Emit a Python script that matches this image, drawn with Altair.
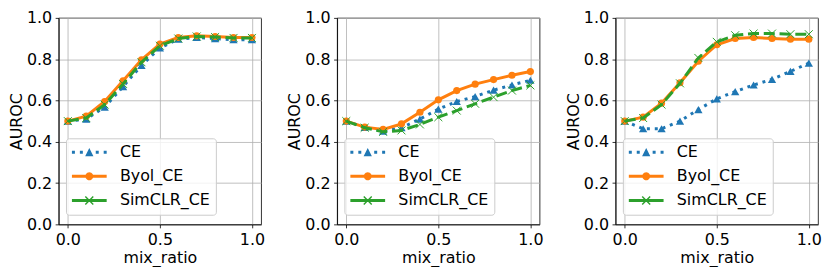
import math
import altair as alt
import pandas as pd

# ---------------- data ----------------
mix_ratio = [0.0, 0.1, 0.2, 0.3, 0.4, 0.5, 0.6, 0.7, 0.8, 0.9, 1.0]
series_names = ["CE", "Byol_CE", "SimCLR_CE"]

p1_ce = [0.500, 0.510, 0.568, 0.667, 0.770, 0.854, 0.897, 0.905, 0.900, 0.894, 0.894]
p1_byol = [0.500, 0.524, 0.595, 0.695, 0.797, 0.873, 0.905, 0.913, 0.910, 0.905, 0.905]
p1_simclr = [0.500, 0.515, 0.580, 0.680, 0.785, 0.865, 0.900, 0.910, 0.907, 0.903, 0.903]

p2_ce = [0.500, 0.470, 0.452, 0.468, 0.510, 0.558, 0.595, 0.619, 0.650, 0.675, 0.698]
p2_byol = [0.500, 0.471, 0.460, 0.487, 0.543, 0.603, 0.648, 0.679, 0.701, 0.722, 0.740]
p2_simclr = [0.500, 0.468, 0.448, 0.455, 0.484, 0.519, 0.551, 0.584, 0.616, 0.648, 0.673]

p3_ce = [0.500, 0.463, 0.463, 0.500, 0.556, 0.608, 0.643, 0.675, 0.702, 0.741, 0.781]
p3_byol = [0.500, 0.519, 0.587, 0.686, 0.790, 0.870, 0.900, 0.905, 0.900, 0.897, 0.897]
p3_simclr = [0.500, 0.515, 0.580, 0.683, 0.806, 0.884, 0.916, 0.924, 0.924, 0.921, 0.921]

x_ticks = [0.0, 0.5, 1.0]
y_ticks = [0.0, 0.2, 0.4, 0.6, 0.8, 1.0]

panels = [
    {"CE": p1_ce, "Byol_CE": p1_byol, "SimCLR_CE": p1_simclr},
    {"CE": p2_ce, "Byol_CE": p2_byol, "SimCLR_CE": p2_simclr},
    {"CE": p3_ce, "Byol_CE": p3_byol, "SimCLR_CE": p3_simclr},
]

# ---------------- styles ----------------
colors = ["#1f77b4", "#ff7f0e", "#2ca02c"]
dashes = [[3, 4.95], None, [11.1, 4.8]]
X_PATH = "M-1,-1L1,1M-1,1L1,-1"
marker_shapes = ["triangle-up", "circle", X_PATH]
marker_filled = [True, True, False]
marker_sizes = [70, 52, 64]

FONT = "DejaVu Sans"


def rect(x0, x1, h=0.3):
    return f"M{x0},{-h}L{x1},{-h}L{x1},{h}L{x0},{h}Z"


def circle(r, n=24):
    pts = [(r * math.cos(2 * math.pi * i / n), r * math.sin(2 * math.pi * i / n)) for i in range(n)]
    return "M" + "L".join(f"{x:.3f},{y:.3f}" for x, y in pts) + "Z"


def triangle(a):
    return f"M0,{-a}L{a},{a}L{-a},{a}Z"


def xcross(a, t):
    d1 = f"M{-a - t},{-a + t}L{-a + t},{-a - t}L{a + t},{a - t}L{a - t},{a + t}Z"
    d2 = f"M{a - t},{-a - t}L{a + t},{-a + t}L{-a + t},{a + t}L{-a - t},{a - t}Z"
    return d1 + d2


legend_paths = [
    rect(-3.5, -2.9) + rect(-1.9, -1.3) + rect(1.3, 1.9) + rect(2.9, 3.5) + triangle(0.83),
    rect(-3.5, 3.5) + circle(0.8),
    rect(-3.5, 3.5) + xcross(0.8, 0.1),
]

legend_def = alt.Legend(
    title=None,
    orient="none",
    legendX=7.4,
    legendY=121.3,
    symbolSize=100,
    labelFont=FONT,
    labelFontSize=16,
    labelColor="black",
    padding=6,
    rowPadding=8.3,
    symbolOffset=9.5,
    labelOffset=22.8,
    fillColor="rgba(255,255,255,0.8)",
    strokeColor="#cccccc",
    cornerRadius=3,
    labelLimit=300,
)


def make_panel(vals):
    rows = []
    for s in series_names:
        for xv, yv in zip(mix_ratio, vals[s]):
            rows.append({"series": s, "x": xv, "y": yv})
    df = pd.DataFrame(rows)
    base = alt.Chart(df)
    xenc = alt.X(
        "x:Q",
        scale=alt.Scale(domain=[-0.05, 1.05], nice=False, zero=False),
        axis=alt.Axis(values=x_ticks, format=".1f", title="mix_ratio"),
    )
    yenc = alt.Y(
        "y:Q",
        scale=alt.Scale(domain=[0, 1], nice=False, zero=False),
        axis=alt.Axis(values=y_ticks, format=".1f", title="AUROC"),
    )
    layers = []
    for i, s in enumerate(series_names):
        sub = base.transform_filter(alt.datum.series == s)
        line_kw = dict(color=colors[i], strokeWidth=3, strokeCap="butt")
        if dashes[i] is not None:
            line_kw["strokeDash"] = dashes[i]
        layers.append(sub.mark_line(**line_kw).encode(x=xenc, y=yenc))
        pt_kw = dict(shape=marker_shapes[i], filled=marker_filled[i], size=marker_sizes[i],
                     color=colors[i], opacity=1)
        if not marker_filled[i]:
            pt_kw["strokeWidth"] = 1
        layers.append(sub.mark_point(**pt_kw).encode(x=xenc, y=yenc))
    legend_layer = base.transform_filter("false").mark_point(filled=True, opacity=1).encode(
        x=xenc,
        y=yenc,
        color=alt.Color("series:N", scale=alt.Scale(domain=series_names, range=colors), legend=legend_def),
        shape=alt.Shape("series:N", scale=alt.Scale(domain=series_names, range=legend_paths), legend=legend_def),
    )
    layers.append(legend_layer)
    return alt.layer(*layers).properties(width=204, height=208)


chart = (
    alt.hconcat(*[make_panel(p) for p in panels], spacing=21.5)
    .resolve_scale(color="independent", shape="independent")
    .resolve_legend(color="independent", shape="independent")
    .properties(padding={"left": 0, "top": 0, "right": 0, "bottom": 0})
    .configure_view(stroke="black", strokeWidth=0.8)
    .configure_axis(
        domainColor="black",
        domainWidth=0.8,
        tickColor="black",
        tickWidth=0.8,
        tickSize=3.5,
        labelPadding=3.5,
        labelFont=FONT,
        labelFontSize=16,
        labelColor="black",
        labelFlush=False,
        labelOverlap=False,
        gridColor="#b0b0b0",
        gridWidth=0.8,
        titleFont=FONT,
        titleFontSize=16,
        titleFontWeight="normal",
        titleColor="black",
    )
    .configure_axisX(titlePadding=2)
    .configure_axisY(titlePadding=2)
)

chart.save("out.html", embed_options={"renderer": "svg", "actions": False})
